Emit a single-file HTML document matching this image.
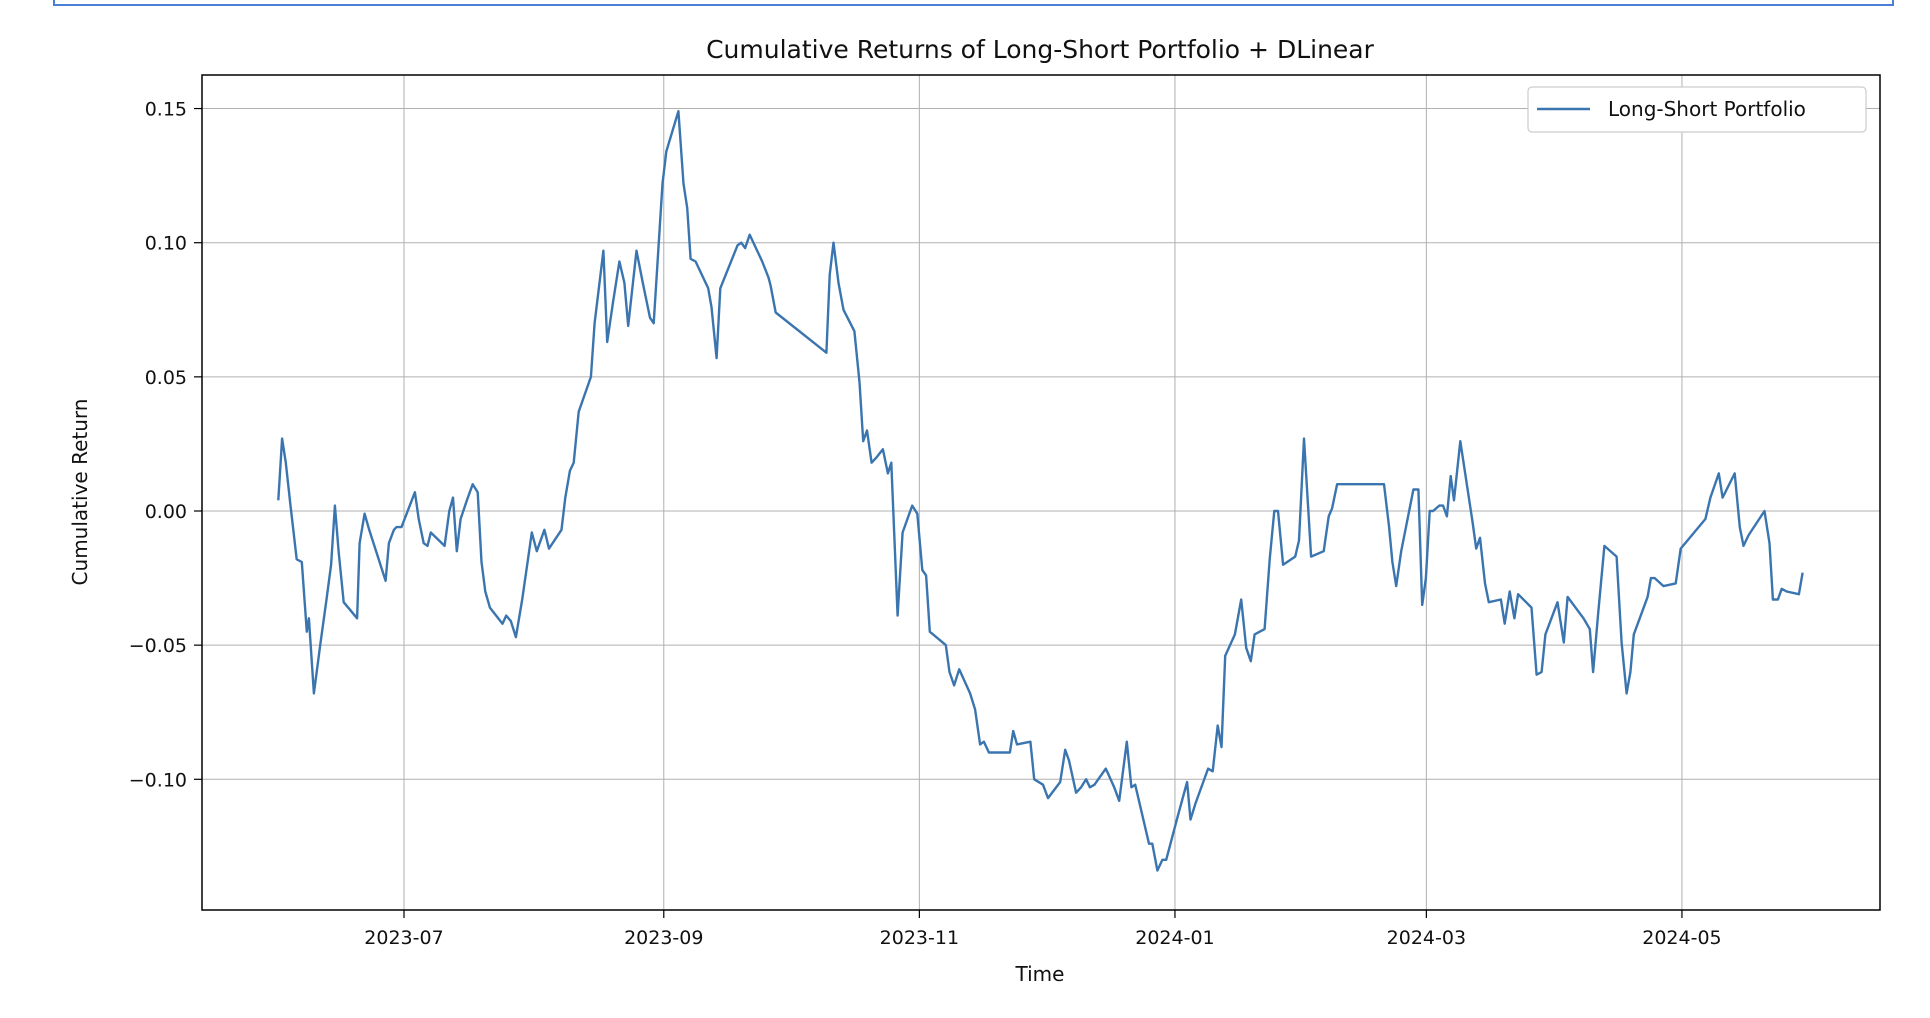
<!DOCTYPE html>
<html><head><meta charset="utf-8">
<style>
html,body{margin:0;padding:0;background:#fff;}
svg{display:block;font-family:"DejaVu Sans","Liberation Sans",sans-serif;}
</style></head>
<body>
<svg id="chart" width="1930" height="1018" viewBox="0 0 1930 1018">
  <path d="M54 0 V5 H1893 V0" fill="none" stroke="#4a7fd6" stroke-width="2"/>
  <text x="1040" y="58" font-size="25" text-anchor="middle" fill="#111">Cumulative Returns of Long-Short Portfolio + DLinear</text>
  <g id="grid"></g>
  <g id="series"></g>
  <rect x="202" y="75" width="1678" height="835" fill="none" stroke="#000" stroke-width="1.5"/>
  <g id="ticks"></g>
  <text x="1040" y="981" font-size="20" text-anchor="middle" fill="#111">Time</text>
  <text x="0" y="0" font-size="20" text-anchor="middle" fill="#111" transform="translate(87,492) rotate(-90)">Cumulative Return</text>
  <g>
    <rect x="1528" y="87" width="338" height="45" rx="4" fill="#fff" stroke="#ccc" stroke-width="1.2"/>
    <line x1="1537" y1="109" x2="1590" y2="109" stroke="#3b75af" stroke-width="2.6"/>
    <text x="1608" y="116" font-size="20" fill="#111">Long-Short Portfolio</text>
  </g>
</svg>
<script>
// days since 2023-06-01
const days = [0,0.9,1.8,2.9,4.4,5.6,6.8,7.3,8.5,10,11.5,12.6,13.5,14.4,15.6,18.8,19.4,20.6,21.7,25.6,26.4,27.6,28.2,29.4,32.6,33.5,34.7,35.6,36.4,39.7,40.8,41.7,42.6,43.5,45,46.4,47.6,48.5,49.4,50.5,53.5,54.4,55.5,56.7,58.2,59.4,60.5,61.7,63.5,64.6,67.6,68.5,69.6,70.5,71.7,74.6,75.5,77.6,78.5,79.9,81.4,82.6,83.5,85.5,87,88.7,89.6,91.7,92.6,95.5,96.7,97.6,98.4,99.6,102.6,103.4,104.6,105.5,109.6,110.5,111.4,112.5,115.5,117,117.5,118.7,130.8,131.6,132.5,133.7,134.9,137.5,138.7,139.6,140.5,141.6,142.8,144.3,145.5,146.3,147.8,149,151.3,152.5,153.7,154.6,155.5,159.3,160.2,161.3,162.5,165.1,166.3,167.5,168.4,169.6,173.4,174.6,175.4,176.3,179.5,180.4,182.5,183.7,186.6,187.8,188.7,190.4,191.6,192.8,193.7,194.8,197.5,199.5,200.7,202.5,203.6,204.5,207.8,208.6,209.8,211,211.9,214.8,216.9,217.7,218.9,221.9,223,224.2,225.1,226,228.3,229.8,231,232.1,233,235.4,236.6,237.7,238.6,239.8,242.7,243.6,244.8,246.5,249.5,250.7,251.5,252.7,263.9,265.1,265.9,266.8,268,270.9,272.1,273,273.9,274.8,275.6,277.1,278,278.9,279.8,280.6,282.1,285,285.9,286.8,288,288.9,291.8,292.7,293.9,295,295.9,299.1,300.3,301.5,302.4,305.3,306.8,307.7,311.5,313,313.8,315,316.5,319.4,320.6,321.8,322.7,323.5,326.8,327.6,328.5,330.6,333.5,334.7,340.6,341.8,343.8,344.7,347.6,348.8,349.7,350.9,354.7,355.9,356.7,357.9,358.8,360,362.9,363.8];
const returns = [0.004,0.027,0.018,0.002,-0.018,-0.019,-0.045,-0.040,-0.068,-0.050,-0.033,-0.020,0.002,-0.015,-0.034,-0.040,-0.012,-0.001,-0.007,-0.026,-0.012,-0.007,-0.006,-0.006,0.007,-0.003,-0.012,-0.013,-0.008,-0.013,0.000,0.005,-0.015,-0.003,0.004,0.010,0.007,-0.019,-0.030,-0.036,-0.042,-0.039,-0.041,-0.047,-0.033,-0.020,-0.008,-0.015,-0.007,-0.014,-0.007,0.005,0.015,0.018,0.037,0.050,0.070,0.097,0.063,0.078,0.093,0.085,0.069,0.097,0.085,0.072,0.070,0.122,0.134,0.149,0.122,0.113,0.094,0.093,0.083,0.076,0.057,0.083,0.099,0.100,0.098,0.103,0.093,0.087,0.084,0.074,0.059,0.088,0.100,0.085,0.075,0.067,0.048,0.026,0.030,0.018,0.020,0.023,0.014,0.018,-0.039,-0.008,0.002,-0.001,-0.022,-0.024,-0.045,-0.050,-0.060,-0.065,-0.059,-0.068,-0.074,-0.087,-0.086,-0.090,-0.090,-0.090,-0.082,-0.087,-0.086,-0.100,-0.102,-0.107,-0.101,-0.089,-0.093,-0.105,-0.103,-0.100,-0.103,-0.102,-0.096,-0.103,-0.108,-0.086,-0.103,-0.102,-0.124,-0.124,-0.134,-0.130,-0.130,-0.113,-0.101,-0.115,-0.109,-0.096,-0.097,-0.080,-0.088,-0.054,-0.046,-0.033,-0.051,-0.056,-0.046,-0.044,-0.018,0.000,0.000,-0.020,-0.017,-0.011,0.027,-0.017,-0.015,-0.002,0.001,0.010,0.010,-0.006,-0.019,-0.028,-0.015,0.008,0.008,-0.035,-0.025,0.000,0.000,0.002,0.002,-0.002,0.013,0.004,0.026,-0.004,-0.014,-0.010,-0.027,-0.034,-0.033,-0.042,-0.030,-0.040,-0.031,-0.036,-0.061,-0.060,-0.046,-0.034,-0.049,-0.032,-0.040,-0.044,-0.060,-0.038,-0.013,-0.017,-0.049,-0.068,-0.060,-0.046,-0.032,-0.025,-0.025,-0.028,-0.027,-0.014,-0.003,0.005,0.014,0.005,0.014,-0.006,-0.013,-0.009,0.000,-0.012,-0.033,-0.033,-0.029,-0.030,-0.031,-0.023];
const xTickDays = [30,92,153,214,274,335];
const xTickLabels = ["2023-07","2023-09","2023-11","2024-01","2024-03","2024-05"];
const yTickValues = [-0.10,-0.05,0.00,0.05,0.10,0.15];
const yTickLabels = ["\u22120.10","\u22120.05","0.00","0.05","0.10","0.15"];

const NS = "http://www.w3.org/2000/svg";
function xScale(d){ return 404 + (d - 30) * 4.190; }
function yScale(v){ return 511 - v * 2683; }
const grid = document.getElementById('grid');
const ticks = document.getElementById('ticks');
function mk(tag, attrs, parent){ const e = document.createElementNS(NS, tag); for (const k in attrs) e.setAttribute(k, attrs[k]); parent.appendChild(e); return e; }

xTickDays.forEach((d, i) => {
  const x = xScale(d);
  const g = mk('line', {x1:x, y1:75, x2:x, y2:910, stroke:'#b0b0b0', 'stroke-width':1}, grid);
  
  
  const t = mk('line', {x1:x, y1:910, x2:x, y2:918, stroke:'#000', 'stroke-width':1.2}, ticks);
  
  
  const l = mk('text', {x:x, y:944, 'font-size':19, 'text-anchor':'middle', fill:'#111'}, ticks);
  l.textContent = xTickLabels[i];
  
  
});
yTickValues.forEach((v, i) => {
  const y = yScale(v);
  const g = mk('line', {x1:202, y1:y, x2:1880, y2:y, stroke:'#b0b0b0', 'stroke-width':1}, grid);
  
  
  const t = mk('line', {x1:194, y1:y, x2:202, y2:y, stroke:'#000', 'stroke-width':1.2}, ticks);
  
  
  const l = mk('text', {x:187, y:y + 7, 'font-size':19, 'text-anchor':'end', fill:'#111'}, ticks);
  l.textContent = yTickLabels[i];
  
  
});
const pts = days.map((d, i) => xScale(d).toFixed(1) + ',' + yScale(returns[i]).toFixed(1)).join(' ');
const line = mk('polyline', {points:pts, fill:'none', stroke:'#3b75af', 'stroke-width':2.4, 'stroke-linejoin':'round'}, document.getElementById('series'));


</script>
</body></html>
